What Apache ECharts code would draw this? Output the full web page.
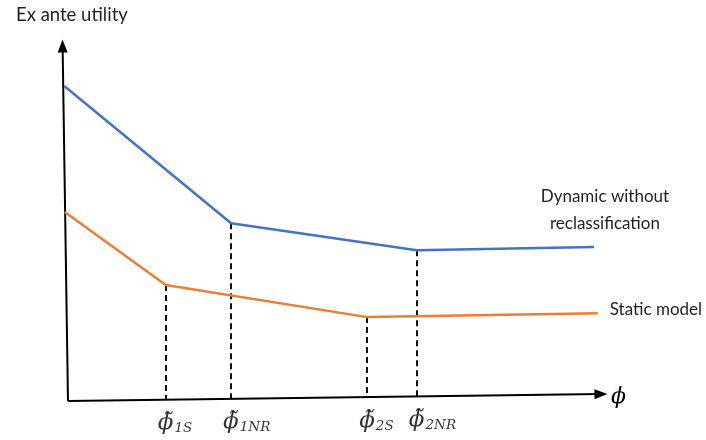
<!DOCTYPE html>
<html>
<head>
<meta charset="utf-8">
<script src="https://cdn.jsdelivr.net/npm/echarts@6/dist/echarts.min.js"></script>
<style>html,body{margin:0;padding:0;background:#fff;}#c{width:706px;height:440px;}</style>
</head>
<body>
<div id="c"></div>
<script>
// ---- data ----
const phiDynamic  = [-0.7, 30.2, 64.6, 97.4];
const utilDynamic = [87.5, 49.4, 41.9, 42.8];
const phiStatic   = [-0.6, 18.1, 55.4, 98.1];
const utilStatic  = [52.5, 32.2, 23.3, 24.4];
const thresholdPhi  = [18.1, 30.2, 55.4, 64.6];
const thresholdUtil = [32.2, 49.4, 23.3, 41.9];
const tickSubs = ['1S', '1NR', '2S', '2NR'];
const seriesNames = ['Dynamic without\nreclassification', 'Static model'];
const yTitle = 'Ex ante utility';
const xTitle = 'ϕ';
// axis geometry (hand-drawn axes, slightly tilted)
const origin = [0, 0];
const xAxisEnd = [98.7, 1.92];
const yAxisEnd = [-1.0, 98.6];

const zip = (a, b) => a.map((v, i) => [v, b[i]]);
const onXAxis = x => x * xAxisEnd[1] / xAxisEnd[0];

const textFont = 'Lato';
const mathFont = 'DejaVu Serif';
const textColor = '#1f1f1f';

const chart = echarts.init(document.getElementById('c'), null, {renderer: 'canvas'});
chart.setOption({
  animation: false,
  backgroundColor: '#ffffff',
  title: {
    text: yTitle, left: 11, top: 1,
    textStyle: {fontFamily: textFont, fontSize: 18.5, fontWeight: 'normal', color: textColor}
  },
  grid: {left: 57.2, right: 98, top: 33.8, bottom: 31.8},
  xAxis: {type: 'value', min: -2, max: 100, show: false},
  yAxis: {type: 'value', min: -2, max: 102, show: false},
  series: [
    {
      type: 'line', name: seriesNames[0], data: zip(phiDynamic, utilDynamic),
      symbol: 'none', clip: false, z: 5,
      lineStyle: {color: '#4472C4', width: 2.5},
      endLabel: {
        show: true, formatter: seriesNames[0], align: 'center', distance: 0,
        offset: [11, -37], lineHeight: 27,
        fontFamily: textFont, fontSize: 17, color: textColor
      }
    },
    {
      type: 'line', name: seriesNames[1], data: zip(phiStatic, utilStatic),
      symbol: 'none', clip: false, z: 5,
      lineStyle: {color: '#ED7D31', width: 2.5},
      endLabel: {
        show: true, formatter: seriesNames[1], distance: 12, offset: [0, -4],
        fontFamily: textFont, fontSize: 17, color: textColor
      }
    },
    {
      type: 'scatter', name: 'thresholds',
      data: thresholdPhi.map(x => [x, onXAxis(x)]),
      symbolSize: 0, silent: true, clip: false,
      label: {
        show: true, position: 'bottom', align: 'left', distance: 12, offset: [-8, 0],
        formatter: p => '{p|ϕ̃}{s|' + tickSubs[p.dataIndex] + '}',
        rich: {
          p: {fontFamily: mathFont, fontStyle: 'italic', fontSize: 23, color: '#000', verticalAlign: 'bottom'},
          s: {fontFamily: mathFont, fontStyle: 'italic', fontSize: 13.5, color: '#000', verticalAlign: 'bottom', padding: [0, 0, -1, 1]}
        }
      },
      markLine: {
        silent: true, symbol: ['none', 'none'], animation: false,
        lineStyle: {color: '#111', width: 2, type: [6, 4]},
        label: {show: false},
        data: thresholdPhi.map((x, i) => [
          {coord: [x, thresholdUtil[i]]},
          {coord: [x, onXAxis(x)]}
        ])
      }
    },
    {
      type: 'line', name: 'axes', data: [], symbol: 'none',
      markLine: {
        silent: true, animation: false,
        symbol: ['none', 'triangle'], symbolSize: [10, 13],
        lineStyle: {color: '#000', width: 2, type: 'solid'},
        label: {show: false},
        data: [
          [
            {coord: origin, label: {show: true, position: 'end', formatter: xTitle, distance: 10,
              offset: [0, 3],
              fontFamily: mathFont, fontStyle: 'italic', fontSize: 22, color: '#000'}},
            {coord: xAxisEnd}
          ],
          [
            {coord: origin},
            {coord: yAxisEnd}
          ]
        ]
      }
    }
  ]
});
</script>
</body>
</html>
